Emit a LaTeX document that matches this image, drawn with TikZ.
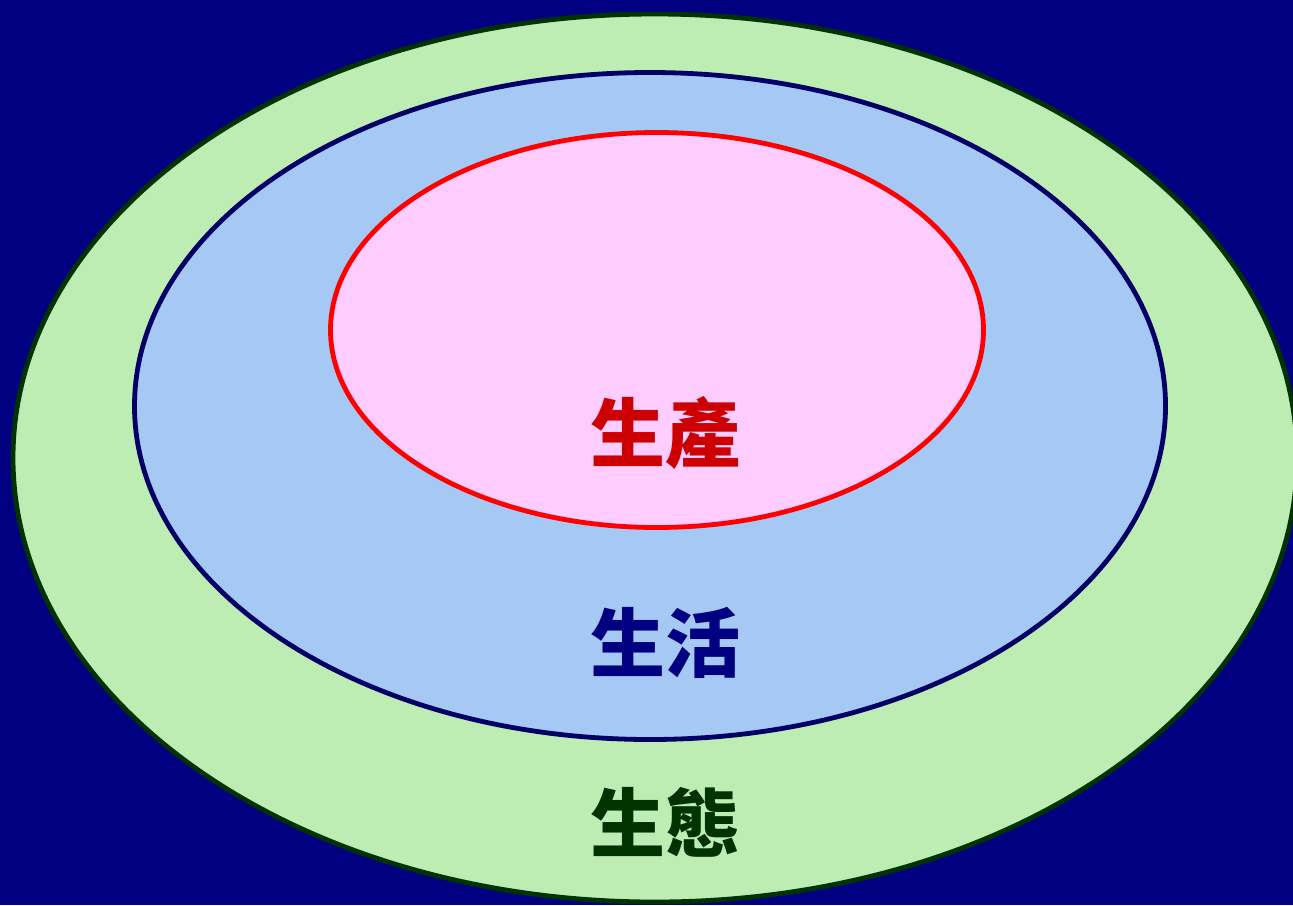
\documentclass[tikz,border=0pt]{standalone}
\usepackage{fontspec}
\newfontfamily\cjk{Noto Sans CJK TC}
\usepackage{tikz}
\usetikzlibrary{shapes.geometric}
\definecolor{bgnavy}{HTML}{000080}
\definecolor{ecofill}{HTML}{BDEDB3}
\definecolor{ecoline}{HTML}{003300}
\definecolor{lifefill}{HTML}{A6C8F5}
\definecolor{lifeline}{HTML}{000066}
\definecolor{prodfill}{HTML}{FFCCFF}
\definecolor{prodline}{HTML}{FF0000}
\definecolor{prodtext}{HTML}{CC0000}

\begin{document}
\begin{tikzpicture}[x=0.5pt,y=-0.5pt]
\tikzstyle{ring} = [ellipse, draw, line width=2.4pt, inner sep=0pt]
\tikzstyle{word} = [font=\cjk\bfseries\fontsize{37.5}{40}\selectfont, inner sep=0pt]

\fill[bgnavy] (0,0) rectangle (1293,905);
\useasboundingbox (0,0) rectangle (1293,905);

\node[ring, fill=ecofill, draw=ecoline, minimum width=642pt, minimum height=444pt] (eco) at (655,458) {};
\node[ring, fill=lifefill, draw=lifeline, minimum width=515.5pt, minimum height=333.5pt] (life) at (650,406) {};
\node[ring, fill=prodfill, draw=prodline, minimum width=326.5pt, minimum height=197.5pt] (prod) at (657,330) {};

\node[word, text=prodtext] (prodlabel) at (665,433) {生產};
\node[word, text=bgnavy] (lifelabel) at (665,643) {生活};
\node[word, text=ecoline] (ecolabel) at (665,822) {生態};
\end{tikzpicture}
\end{document}
